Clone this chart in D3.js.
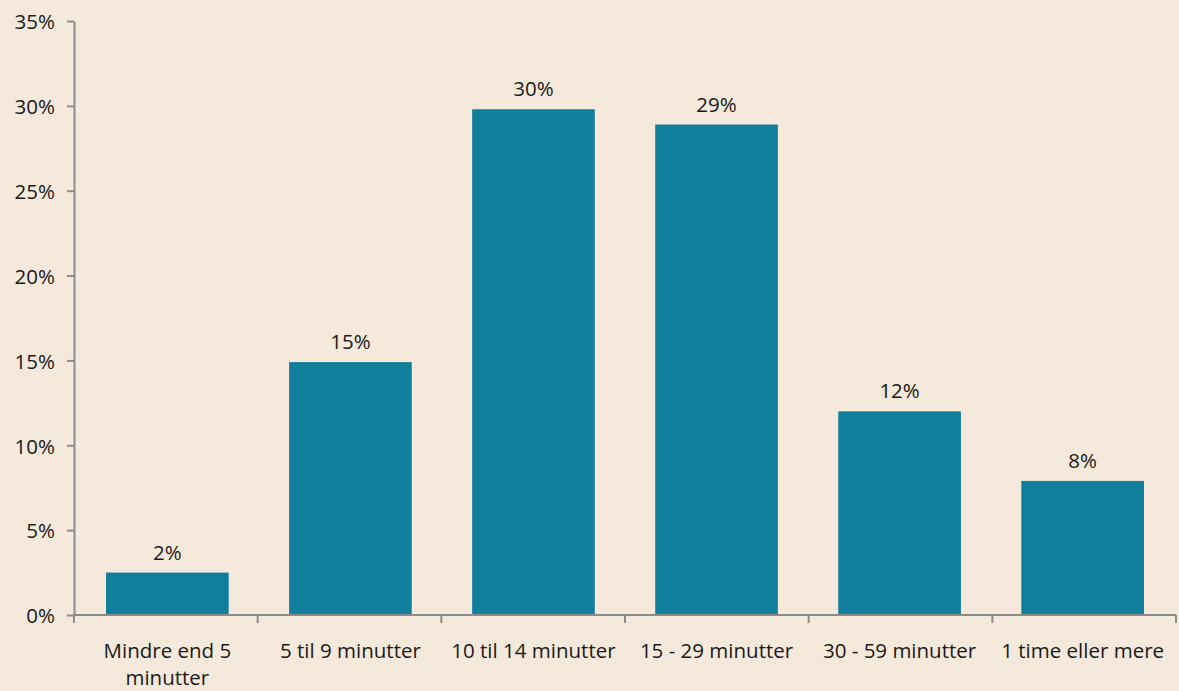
<!DOCTYPE html>
<html lang="da">
<head>
<meta charset="utf-8">
<title>Bar chart</title>
<script src="https://d3js.org/d3.v7.min.js"></script>
<style>
  body { margin: 0; background-color: #f5e9dc; }
  svg { display: block; background-color: #f5e9dc; }
  text { font-family: "Open Sans", "Noto Sans", sans-serif; fill: #1a1a1a; }
  .axis path, .axis line { stroke: #8c8c8c; stroke-width: 2; }
</style>
</head>
<body>
<script>
  var categories = ['Mindre end 5 minutter', '5 til 9 minutter', '10 til 14 minutter',
                    '15 - 29 minutter', '30 - 59 minutter', '1 time eller mere'];
  var values = [2.5, 14.9, 29.8, 28.9, 12.0, 7.9];
  var valueLabels = ['2%', '15%', '30%', '29%', '12%', '8%'];
  var yTicks = [0, 5, 10, 15, 20, 25, 30, 35];

  var width = 1179, height = 691;
  var margin = {top: 21, right: 3, bottom: 76, left: 74};
  var fs = '20.5px';

  var svg = d3.select('body').append('svg')
      .attr('width', width)
      .attr('height', height);

  var x = d3.scaleBand()
      .domain(categories)
      .range([margin.left, width - margin.right])
      .paddingInner(0.33)
      .paddingOuter(0.175);

  var y = d3.scaleLinear()
      .domain([0, 35])
      .range([height - margin.bottom, margin.top]);

  // y axis
  var yAxis = svg.append('g')
      .attr('class', 'axis')
      .attr('transform', 'translate(' + margin.left + ',0)')
      .call(d3.axisLeft(y).tickValues(yTicks).tickSize(7).tickSizeOuter(0)
            .tickFormat(function(d){ return d + '%'; }));
  yAxis.selectAll('text').style('font-size', fs).attr('dx', '-9').attr('dy', '0.38em');

  // bars
  svg.selectAll('.bar')
      .data(values)
      .enter()
      .append('rect')
      .attr('class', 'bar')
      .attr('x', function(d, i){ return x(categories[i]); })
      .attr('width', x.bandwidth())
      .attr('y', function(d){ return y(d); })
      .attr('height', function(d){ return y(0) - y(d); })
      .style('fill', '#117e9b');

  // value labels
  svg.selectAll('.val')
      .data(values)
      .enter()
      .append('text')
      .attr('class', 'val')
      .attr('x', function(d, i){ return x(categories[i]) + x.bandwidth() / 2; })
      .attr('y', function(d){ return y(d) - 13; })
      .attr('text-anchor', 'middle')
      .style('font-size', fs)
      .text(function(d, i){ return valueLabels[i]; });

  // x axis with ticks between categories
  var step = (width - margin.right - margin.left) / categories.length;
  var xEdges = d3.range(categories.length + 1).map(function(i){ return margin.left + i * step; });
  var xg = svg.append('g').attr('class', 'axis');
  xg.append('path')
      .attr('d', 'M' + margin.left + ',' + y(0) + 'H' + (width - margin.right));
  xg.selectAll('line')
      .data(xEdges)
      .enter()
      .append('line')
      .attr('x1', function(d){ return d; })
      .attr('x2', function(d){ return d; })
      .attr('y1', y(0))
      .attr('y2', y(0) + 8);

  var xLabels = svg.selectAll('.xlab')
      .data(categories)
      .enter()
      .append('text')
      .attr('class', 'xlab')
      .attr('text-anchor', 'middle')
      .style('font-size', fs)
      .attr('x', function(d){ return x(d) + x.bandwidth() / 2; })
      .attr('y', y(0) + 43);

  xLabels.each(function(d, i){
    var t = d3.select(this);
    if (i === 0) {
      t.append('tspan').attr('x', x(d) + x.bandwidth() / 2).text('Mindre end 5');
      t.append('tspan').attr('x', x(d) + x.bandwidth() / 2).attr('dy', 27).text('minutter');
    } else {
      t.text(d);
    }
  });
</script>
</body>
</html>
